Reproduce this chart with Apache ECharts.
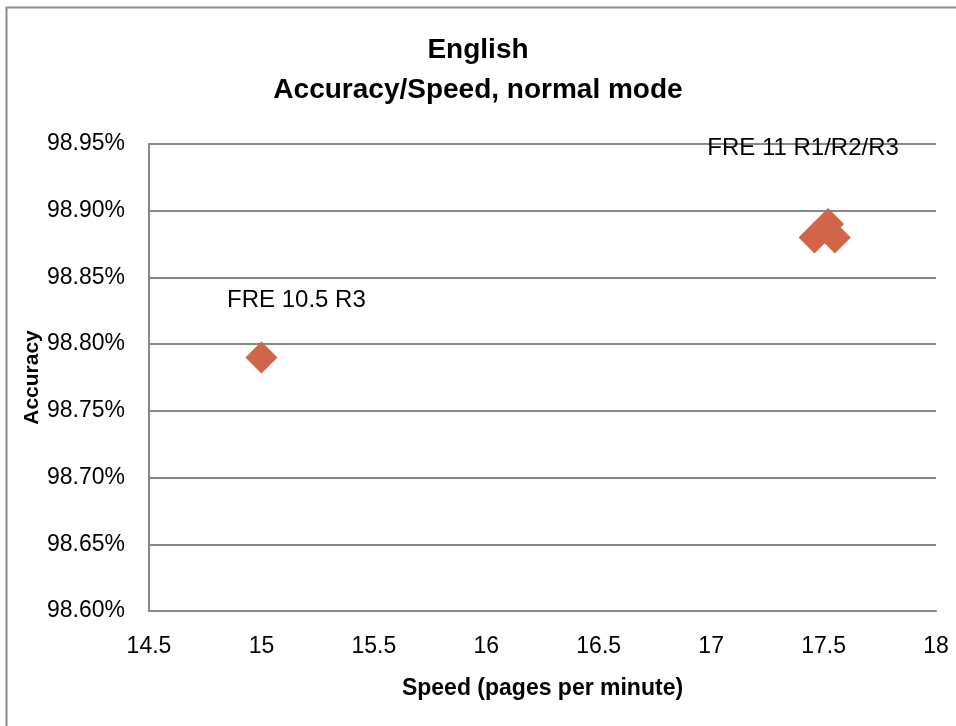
<!DOCTYPE html>
<html>
<head>
<meta charset="utf-8">
<script src="https://cdn.jsdelivr.net/npm/echarts@6/dist/echarts.min.js"></script>
<style>
  html, body { margin: 0; padding: 0; background: #fff; }
  #chart { width: 956px; height: 726px; }
</style>
</head>
<body>
<div id="chart"></div>
<script>
// speed (pages per minute) and accuracy (%)
const speed = [15, 17.46, 17.52, 17.55]
const accuracy = [98.79, 98.88, 98.89, 98.88]
const pointLabels = ['FRE 10.5 R3', '', 'FRE 11 R1/R2/R3', '']
const titleLines = ['English', 'Accuracy/Speed, normal mode']

const font = 'Liberation Sans, Arial, sans-serif'
const myChart = echarts.init(document.getElementById('chart'))

const labelOffsets = [[35, -57], [0, 0], [-25, -76], [0, 0]]
const points = speed.map((s, i) => ({
  value: [s, accuracy[i]],
  label: {
    show: pointLabels[i] !== '',
    formatter: pointLabels[i],
    position: 'inside',
    offset: labelOffsets[i],
    color: '#000',
    fontSize: 24,
    fontFamily: font
  }
}))

let option = {
  animation: false,
  backgroundColor: '#fff',
  title: {
    text: titleLines.join('\n'),
    left: 'center',
    top: 25,
    textStyle: { fontSize: 28, fontWeight: 'bold', fontFamily: font, color: '#000', lineHeight: 40 }
  },
  graphic: [
    {
      type: 'rect',
      shape: { x: 6.5, y: 7.5, width: 1000, height: 1000 },
      style: { fill: 'none', stroke: '#8c8c8c', lineWidth: 2 },
      silent: true
    }
  ],
  grid: { left: 149, right: 20, top: 144, bottom: 115 },
  xAxis: {
    type: 'value',
    min: 14.5,
    max: 18,
    interval: 0.5,
    name: 'Speed (pages per minute)',
    nameLocation: 'middle',
    nameGap: 66,
    nameTextStyle: { fontSize: 23, fontWeight: 'bold', fontFamily: font, color: '#000' },
    axisLine: { lineStyle: { color: '#878787', width: 2 } },
    axisTick: { show: false },
    axisLabel: { fontSize: 23, fontFamily: font, color: '#000', margin: 24 },
    splitLine: { show: false }
  },
  yAxis: {
    type: 'value',
    min: 98.6,
    max: 98.95,
    interval: 0.05,
    name: 'Accuracy',
    nameLocation: 'middle',
    nameGap: 106,
    nameMoveOverlap: false,
    nameTextStyle: { fontSize: 21, fontWeight: 'bold', fontFamily: font, color: '#000' },
    axisLine: { show: true, lineStyle: { color: '#878787', width: 2 } },
    axisTick: { show: false },
    axisLabel: {
      fontSize: 23,
      fontFamily: font,
      color: '#000',
      margin: 24,
      formatter: v => v.toFixed(2) + '%'
    },
    splitLine: { lineStyle: { color: '#878787', width: 2 } }
  },
  series: [
    {
      type: 'scatter',
      symbol: 'diamond',
      symbolSize: 32,
      itemStyle: { color: '#d0654a', opacity: 1 },
      data: points
    }
  ]
}
option && myChart.setOption(option)
</script>
</body>
</html>
